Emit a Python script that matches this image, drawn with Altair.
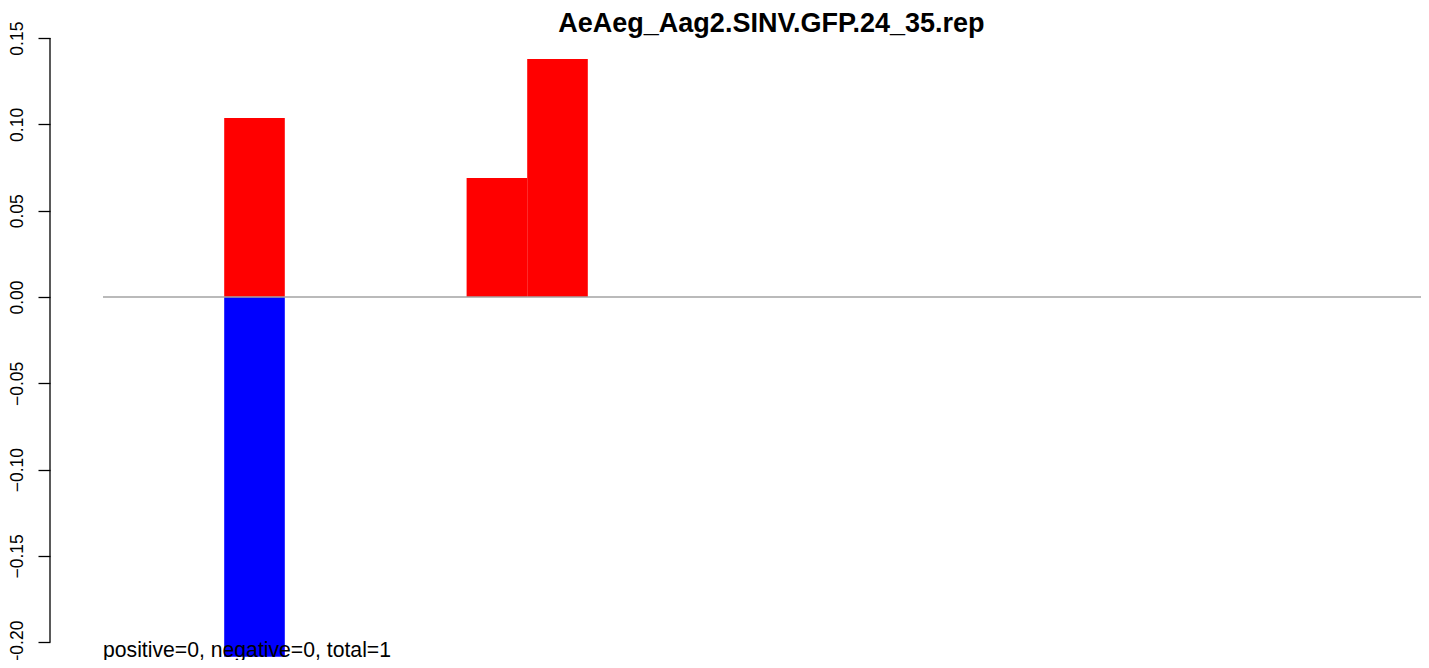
import altair as alt
import pandas as pd

# bar slots (0-based bin index along the hidden x axis) and values
pos_slots = [2, 6, 7]
pos_values = [0.1037, 0.069, 0.1379]
neg_slots = [2]
neg_values = [-0.2084]

y_ticks = [-0.20, -0.15, -0.10, -0.05, 0.00, 0.05, 0.10, 0.15]
title_text = "AeAeg_Aag2.SINV.GFP.24_35.rep"
footer_text = "positive=0, negative=0, total=1"

n_slots = 22
x_domain = [-0.8746, 21.749]
y_domain = [-0.2103, 0.1518]

# annotation anchors in data units
title_at = (11.03, 0.1537)
footer_at = (0, -0.2084)

FONT = "Liberation Sans"

bars = pd.DataFrame({
    "slot": pos_slots + neg_slots,
    "value": pos_values + neg_values,
    "sign": ["positive"] * len(pos_slots) + ["negative"] * len(neg_slots),
})
bars["slot_end"] = bars["slot"] + 1
bars["base"] = 0.0

xs = alt.Scale(domain=x_domain, nice=False, zero=False)
ys = alt.Scale(domain=y_domain, nice=False, zero=False)

bar_layer = alt.Chart(bars).mark_rect().encode(
    x=alt.X("slot:Q", scale=xs, axis=None),
    x2="slot_end:Q",
    y=alt.Y("value:Q", scale=ys, axis=alt.Axis(
        values=y_ticks, format=".2f", title=None, grid=False, domain=False,
        ticks=True, tickSize=12, tickColor="black", tickWidth=1.3,
        labelAngle=-90, labelAlign="center", labelBaseline="alphabetic",
        labelPadding=16, labelFontSize=17.5, labelFont=FONT, labelColor="black",
        labelFlush=False, labelOverlap=False, labelBound=False)),
    y2="base:Q",
    color=alt.Color("sign:N", scale=alt.Scale(domain=["positive", "negative"],
                                              range=["#FF0000", "#0000FF"]),
                    legend=None),
)

zero_df = pd.DataFrame({"x0": [0], "x1": [n_slots], "y0": [0.0]})
zero_layer = alt.Chart(zero_df).mark_rule(color="#a3a3a3", strokeWidth=1.5, clip=True).encode(
    x=alt.X("x0:Q", scale=xs), x2="x1:Q", y=alt.Y("y0:Q", scale=ys)
)

axis_df = pd.DataFrame({"x": [x_domain[0]], "ylo": [y_ticks[0]], "yhi": [y_ticks[-1]]})
axis_layer = alt.Chart(axis_df).mark_rule(color="black", strokeWidth=1.3).encode(
    x=alt.X("x:Q", scale=xs), y=alt.Y("ylo:Q", scale=ys), y2="yhi:Q"
)

foot_df = pd.DataFrame({"x": [footer_at[0]], "y": [footer_at[1]], "t": [footer_text]})
foot_layer = alt.Chart(foot_df).mark_text(
    align="left", baseline="alphabetic", fontSize=21.2, font=FONT, color="black"
).encode(x=alt.X("x:Q", scale=xs), y=alt.Y("y:Q", scale=ys), text="t:N")

title_df = pd.DataFrame({"x": [title_at[0]], "y": [title_at[1]], "t": [title_text]})
title_layer = alt.Chart(title_df).mark_text(
    align="center", baseline="alphabetic", fontSize=27, fontWeight="bold",
    font=FONT, color="black"
).encode(x=alt.X("x:Q", scale=xs), y=alt.Y("y:Q", scale=ys), text="t:N")

chart = alt.layer(bar_layer, zero_layer, axis_layer, foot_layer, title_layer).properties(
    width=1371, height=625,
    background="white",
    autosize=alt.AutoSizeParams(type="none"),
    padding={"left": 42, "top": 27, "right": 0, "bottom": 0},
).configure_view(stroke=None)

chart.save("out.html", embed_options={"renderer": "svg", "actions": False})
